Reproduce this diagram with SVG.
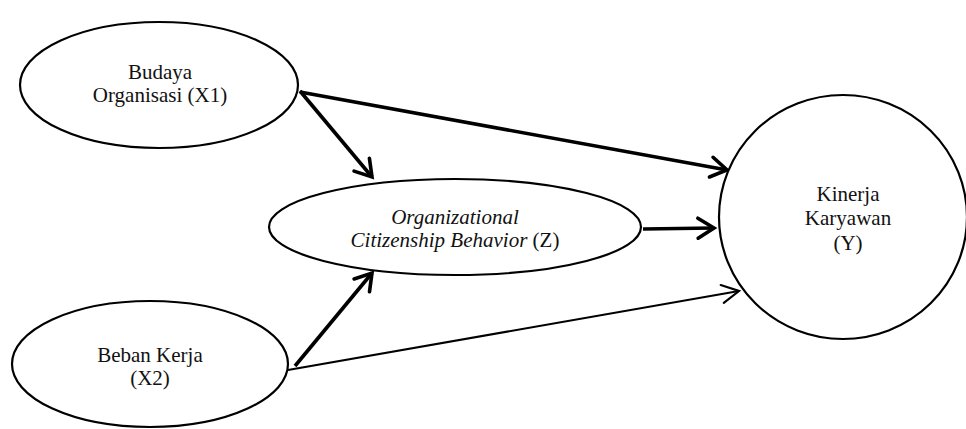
<svg xmlns="http://www.w3.org/2000/svg" width="966" height="429" viewBox="0 0 966 429">
<style>
.node{fill:#fff;stroke:#000;stroke-width:2.2}
.lbl{font-family:"Liberation Serif","Times New Roman",serif;font-size:21px;fill:#111;text-anchor:middle}
.it{font-style:italic}
.thick{stroke:#000;stroke-width:3.6;fill:none;marker-end:url(#ahT)}
.thin{stroke:#000;stroke-width:2;fill:none;marker-end:url(#ah)}
</style>
<defs>
<marker id="ahT" markerUnits="userSpaceOnUse" orient="auto" refX="0" refY="0" markerWidth="40" markerHeight="40" viewBox="-30 -20 40 40" overflow="visible">
<path d="M-16,-10 L0,0 L-16,10" fill="none" stroke="#000" stroke-width="3.6" stroke-linecap="round" stroke-linejoin="miter"/>
</marker>
<marker id="ah" markerUnits="userSpaceOnUse" orient="auto" refX="0" refY="0" markerWidth="40" markerHeight="40" viewBox="-30 -20 40 40" overflow="visible">
<path d="M-17,-9 L0,0 L-17,9" fill="none" stroke="#000" stroke-width="2.2" stroke-linecap="round"/>
</marker>
</defs>
<rect width="966" height="429" fill="#fff"/>
<g id="connectors">
<line class="thick" x1="300" y1="92" x2="727" y2="170"/>
<line class="thick" x1="300" y1="91" x2="372" y2="177"/>
<line class="thick" x1="643" y1="229" x2="714" y2="228"/>
<line class="thick" x1="295" y1="366" x2="372" y2="273"/>
<line class="thin" x1="288" y1="370" x2="739" y2="291"/>
</g>
<g id="x1">
<ellipse class="node" cx="159" cy="85" rx="139" ry="63"/>
<text class="lbl" x="160" y="79">Budaya</text>
<text class="lbl" x="160" y="102">Organisasi (X1)</text>
</g>
<g id="x2">
<ellipse class="node" cx="150" cy="364" rx="138" ry="63"/>
<text class="lbl" x="150" y="362">Beban Kerja</text>
<text class="lbl" x="150" y="385">(X2)</text>
</g>
<g id="z">
<ellipse class="node" cx="455" cy="227" rx="186" ry="48"/>
<text class="lbl it" x="455" y="224">Organizational</text>
<text class="lbl" x="455" y="247"><tspan class="it">Citizenship Behavior</tspan> (Z)</text>
</g>
<g id="y">
<ellipse class="node" cx="843" cy="217" rx="124" ry="122"/>
<text class="lbl" x="848" y="201">Kinerja</text>
<text class="lbl" x="848" y="225">Karyawan</text>
<text class="lbl" x="848" y="250">(Y)</text>
</g>
</svg>
